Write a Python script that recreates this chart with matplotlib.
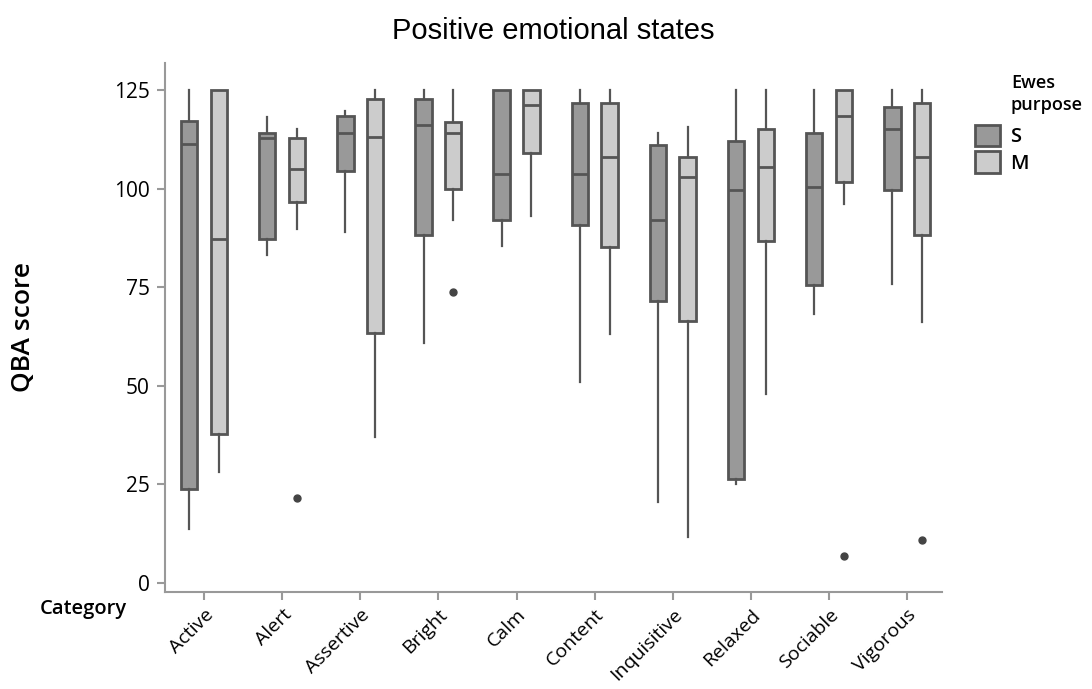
import matplotlib
matplotlib.use('Agg')
import matplotlib.pyplot as plt
from matplotlib.patches import Patch

categories = ['Active', 'Alert', 'Assertive', 'Bright', 'Calm', 'Content',
              'Inquisitive', 'Relaxed', 'Sociable', 'Vigorous']

# S group (dark boxes)
s_low = [13.8, 83.3, 89.0, 61.0, 85.4, 50.9, 20.5, 25.1, 68.2, 75.8]
s_q1 = [23.9, 87.3, 104.5, 88.3, 92.0, 90.8, 71.6, 26.4, 75.7, 99.6]
s_med = [111.3, 112.8, 114.3, 116.3, 103.7, 103.7, 92.0, 99.6, 100.4, 115.2]
s_q3 = [117.3, 114.3, 118.4, 122.9, 125.0, 121.9, 111.2, 112.2, 114.2, 120.9]
s_high = [125.0, 118.3, 119.8, 125.0, 125.0, 125.0, 114.1, 125.0, 125.0, 125.0]
s_out = [[], [], [], [], [], [], [], [], [], []]

# M group (light boxes)
m_low = [28.1, 89.9, 37.1, 92.0, 93.0, 63.1, 11.7, 47.9, 96.1, 66.1]
m_q1 = [37.8, 96.6, 63.5, 100.0, 109.2, 85.3, 66.5, 86.9, 101.7, 88.3]
m_med = [87.4, 105.1, 113.2, 114.2, 121.4, 108.1, 103.1, 105.5, 118.4, 108.0]
m_q3 = [125.0, 112.8, 122.9, 116.9, 125.0, 121.9, 108.1, 115.3, 125.0, 121.9]
m_high = [125.0, 115.2, 125.0, 125.0, 125.0, 125.0, 115.6, 125.0, 125.0, 125.0]
m_out = [[], [21.6], [], [73.9], [], [], [], [], [6.8], [10.9]]

groups = ['S', 'M']
fills = ['#999999', '#cccccc']
edge = '#555555'

plt.rcParams['font.family'] = ['Open Sans', 'DejaVu Sans']

fig = plt.figure(figsize=(10.92, 6.89), dpi=100)
ax = fig.add_axes([0.151, 0.1408, 0.712, 0.768])


def stats(low, q1, med, q3, high, out):
    res = []
    for i in range(len(low)):
        res.append(dict(whislo=low[i], q1=q1[i], med=med[i], q3=q3[i],
                        whishi=high[i], fliers=out[i]))
    return res


offsets = [-0.19, 0.19]
data = [stats(s_low, s_q1, s_med, s_q3, s_high, s_out),
        stats(m_low, m_q1, m_med, m_q3, m_high, m_out)]
for g in range(2):
    pos = [i + offsets[g] for i in range(len(categories))]
    ax.bxp(data[g], positions=pos, widths=0.21, patch_artist=True,
           showcaps=False,
           boxprops=dict(facecolor=fills[g], edgecolor=edge, linewidth=2),
           medianprops=dict(color=edge, linewidth=2),
           whiskerprops=dict(color=edge, linewidth=1.6),
           flierprops=dict(marker='o', markersize=5, markerfacecolor='#444444',
                           markeredgecolor='#444444'))

ax.set_xlim(-0.5, 9.45)
ax.set_ylim(-2.3, 132)
ax.set_yticks([0, 25, 50, 75, 100, 125])
ax.set_xticks(range(len(categories)))
ax.set_xticklabels(categories, rotation=45, ha='right', rotation_mode='anchor',
                   fontsize=14)
ax.tick_params(axis='y', labelsize=15, length=6, color='#999999', width=1.5, pad=5)
ax.tick_params(axis='x', length=6, color='#999999', width=1.5, pad=4)
for sp in ['top', 'right']:
    ax.spines[sp].set_visible(False)
for sp in ['left', 'bottom']:
    ax.spines[sp].set_color('#999999')
    ax.spines[sp].set_linewidth(1.5)

fig.text(23 / 1092, 1 - 327 / 689, 'QBA score', rotation=90, ha='center',
         va='center', fontsize=19, fontweight='semibold')
fig.text(0.5065, 0.955, 'Positive emotional states', ha='center', va='center',
         fontsize=21, family='Liberation Sans')
fig.text(0.036, 0.116, 'Category', ha='left', va='center', fontsize=14.5,
         fontweight='semibold')

fig.text(1011 / 1092, 1 - 74 / 689, 'Ewes\npurpose', ha='left', va='top',
         fontsize=13, fontweight='semibold', linespacing=1.3)
handles = [Patch(facecolor=fills[g], edgecolor=edge, linewidth=2, label=groups[g])
           for g in range(2)]
fig.legend(handles=handles, loc='upper left',
           bbox_to_anchor=(975 / 1092, 1 - 125 / 689),
           frameon=False, prop=dict(size=14.5, weight='semibold'),
           handlelength=1.25, handleheight=1.25, handletextpad=0.5,
           labelspacing=0.2, borderaxespad=0, borderpad=0)

fig.savefig('out.png', dpi=100)
